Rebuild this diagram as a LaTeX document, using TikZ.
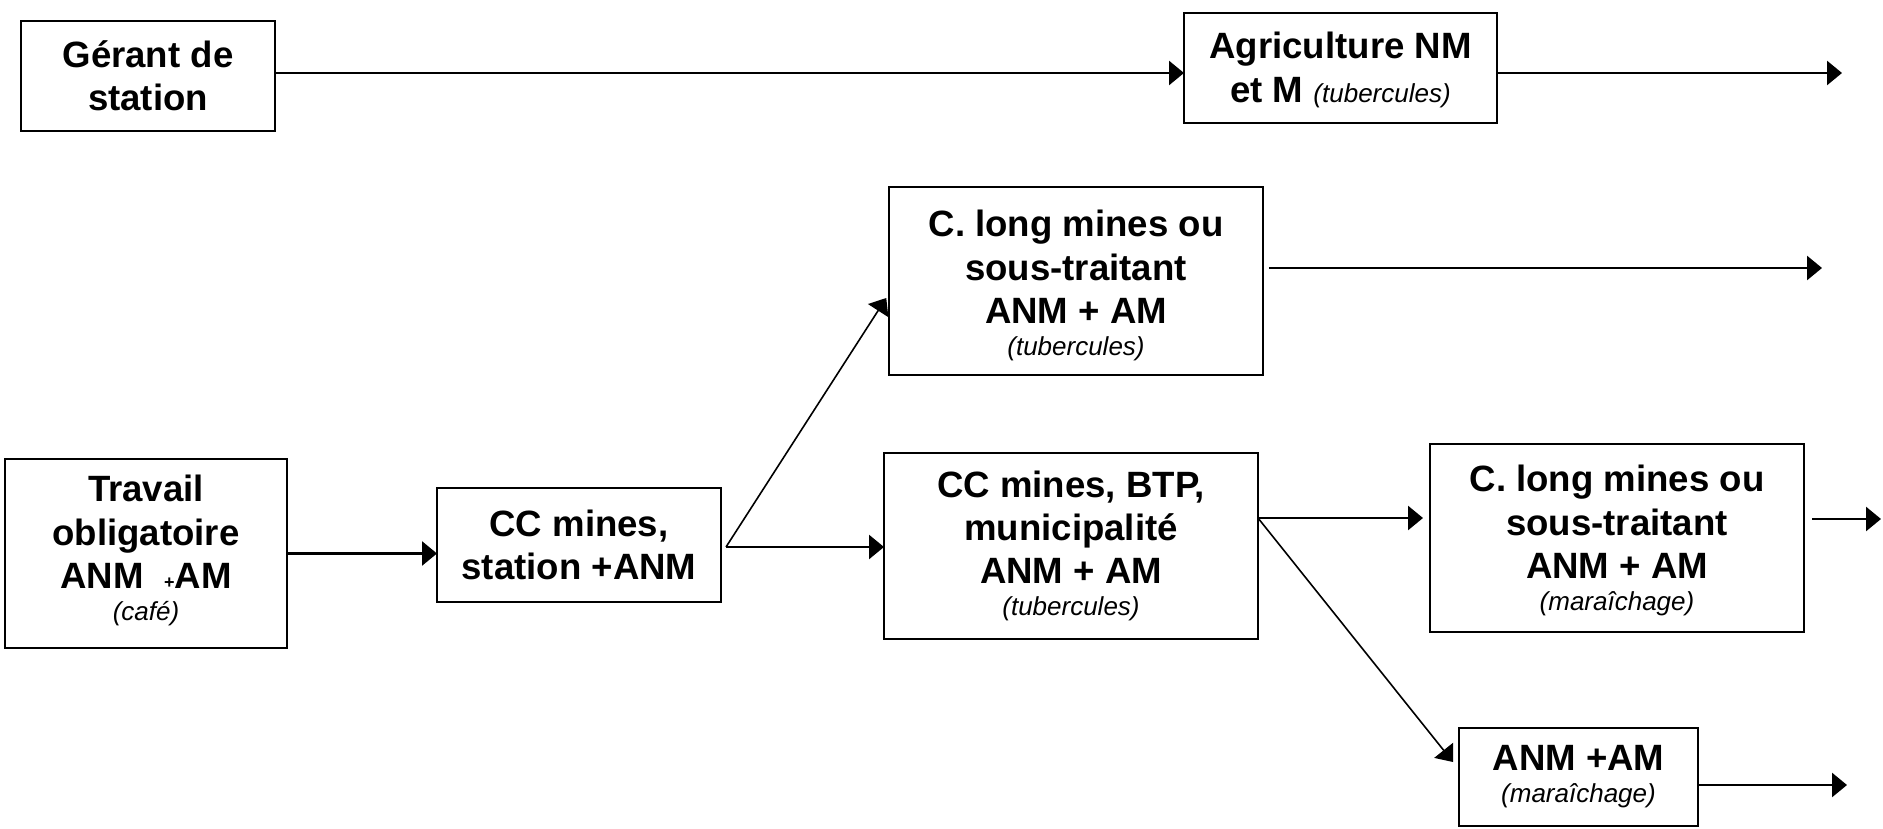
\documentclass[tikz,border=0pt]{standalone}
\usepackage{fontspec}
\setmainfont{Liberation Sans}
\usetikzlibrary{arrows.meta,calc}
% small italic crop note, and invisible struts to place text inside a box
\newcommand\cropnote[1]{{\normalfont\itshape\fontsize{13}{15}\selectfont #1}}
\newcommand\topstrut[1]{\rule{0pt}{#1}}
\newcommand\botstrut[1]{\rule[-#1]{0pt}{#1}}
\newcommand\smallplus{{\fontsize{9}{9}\selectfont +}}
\begin{document}
\begin{tikzpicture}[x=0.5pt,y=-0.5pt,
  box/.style={draw,line width=1pt,inner sep=0pt,outer sep=0pt,align=center,
    font=\bfseries\fontsize{18.3}{21.7}\selectfont},
  flow/.style={line width=1.3pt,-{Triangle[length=7.5pt,width=12pt]}},
  branch/.style={line width=0.8pt,-{Triangle[length=7.5pt,width=12pt]}}]
\useasboundingbox (0,0) rectangle (1883,829);

% boxes
\node[box,minimum width=127pt,minimum height=55pt] (gerant) at (148,76) {Gérant de\\station};
\node[box,minimum width=156.5pt,minimum height=55pt] (agri) at (1340.5,68)
  {\topstrut{15.2pt}Agriculture NM\\et M\hspace{5pt}\cropnote{(tubercules)}};
\node[box,minimum width=186.75pt,minimum height=94pt] (clt) at (1076,281)
  {\topstrut{17.85pt}C. long mines ou\\sous-traitant\\ANM + AM\\[-5.7pt]\cropnote{(tubercules)}};
\node[box,minimum width=141.25pt,minimum height=94.5pt] (travail) at (146,553.5)
  {Travail\\obligatoire\\ANM\ \ \smallplus AM\\[-5.7pt]\cropnote{(café)}\botstrut{5.5pt}};
\node[box,minimum width=142pt,minimum height=57pt] (ccm) at (579,545) {CC mines,\\station +ANM};
\node[box,minimum width=187pt,minimum height=93pt] (ccb) at (1071,546)
  {CC mines, BTP,\\municipalité\\ANM + AM\\[-5.7pt]\cropnote{(tubercules)}};
\node[box,minimum width=187pt,minimum height=94pt] (clm) at (1617,538)
  {\topstrut{15.85pt}C. long mines ou\\sous-traitant\\ANM + AM\\[-5.7pt]\cropnote{(maraîchage)}};
\node[box,minimum width=119.5pt,minimum height=49pt] (anm) at (1578.5,777)
  {ANM +AM\\[-5.7pt]\cropnote{(maraîchage)}};

% helper points
\coordinate (row1) at (0,73);
\coordinate (end1) at (1842,73);
\coordinate (fork) at (726,547);
\coordinate (end2) at (1822,268);
\coordinate (row3) at (0,518);
\coordinate (end3) at (1881,519);
\coordinate (end4) at (1847,785);

% connectors
\draw[flow] (gerant.east |- row1) -- (agri.west |- row1);
\draw[flow] (agri.east |- row1) -- (end1);
\draw[flow] (travail.east) -- (travail.east -| ccm.west);
\draw[flow] (fork) -- (fork -| ccb.west);
\draw[branch] (fork) -- ($(clt.west)+(-3,17)$);
\draw[flow] ($(clt.east |- end2)+(6,0)$) -- (end2);
\draw[flow] (ccb.east |- row3) -- ($(clm.west |- row3)+(-7,0)$);
\draw[flow] ($(clm.east |- end3)+(8,0)$) -- (end3);
\draw[branch] (ccb.east |- row3) -- ($(anm.west)+(-6,-15)$);
\draw[flow] (anm.east |- end4) -- (end4);
\end{tikzpicture}
\end{document}
